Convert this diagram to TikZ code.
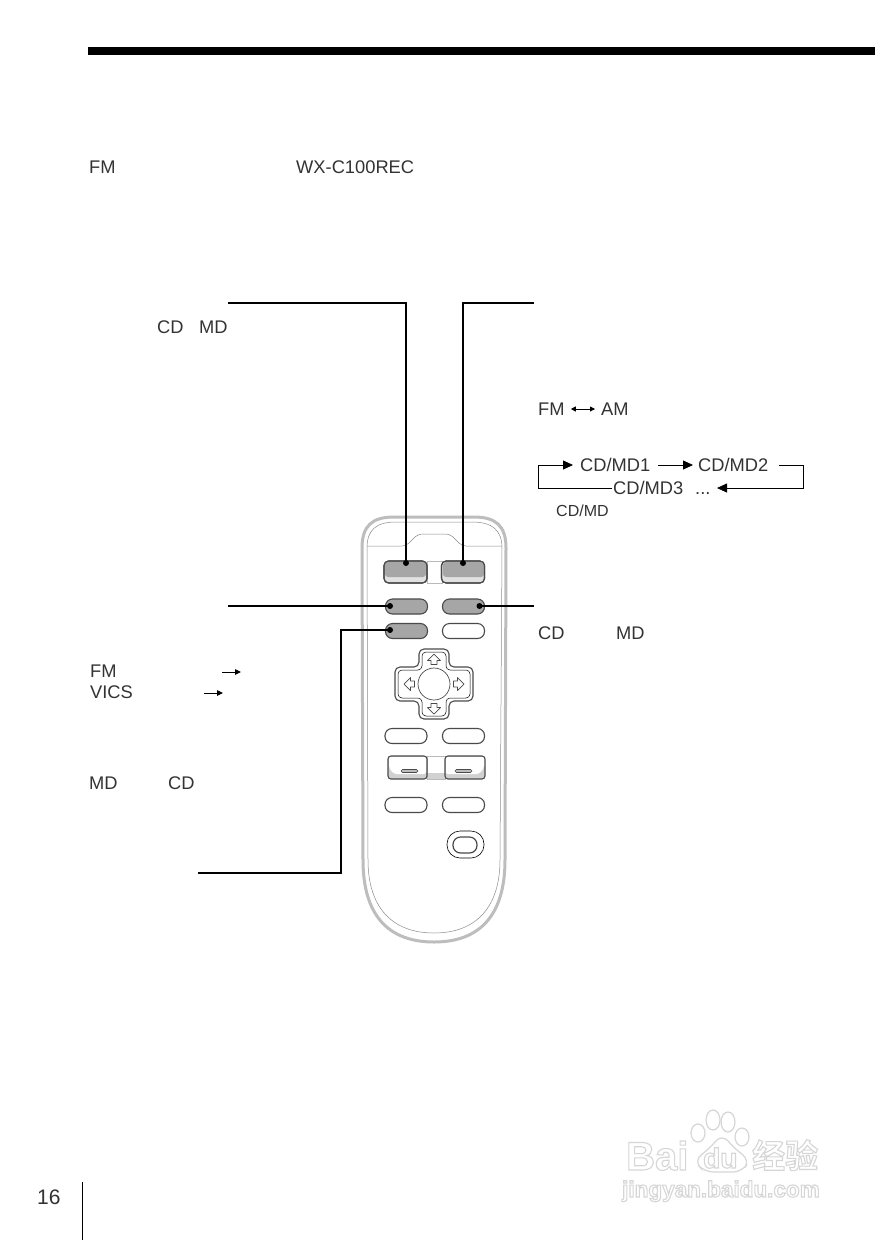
\documentclass[tikz,border=0pt]{standalone}
\usepackage{fontspec}
\setmainfont{Liberation Sans}
\newfontfamily\cjkwm{Noto Sans CJK SC}[BoldFont=* Bold]
\usetikzlibrary{arrows.meta}
\definecolor{ink}{HTML}{333333}
\definecolor{btngray}{HTML}{A6A6A6}
\definecolor{btnedge}{HTML}{4A4A4A}
\definecolor{shell}{HTML}{BDBDBD}
\definecolor{thin}{HTML}{8C8C8C}
\newcommand{\wmtext}[1]{\special{pdf:code q 2 Tr 1.1 w 0.84 G 1 g}#1\special{pdf:code Q}}
\tikzset{
  x=1pt,y=-1pt,
  lab/.style={anchor=base west,inner sep=0pt,text=ink,font=\fontsize{18.3}{19}\selectfont},
  smalllab/.style={lab,font=\fontsize{16}{17}\selectfont},
  lead/.style={line width=1.7pt,black},
  dot/.style={circle,fill=black,inner sep=0pt,minimum size=6pt},
  flow/.style={line width=0.8pt,black,-{Triangle[length=10pt,width=9pt]}},
  flowplain/.style={line width=0.8pt,black},
  shortarrow/.style={line width=0.9pt,black,-{Triangle[length=6pt,width=5.5pt]}},
  both/.style={line width=0.9pt,black,{Triangle[length=5pt,width=5pt]}-{Triangle[length=5pt,width=5pt]}},
  pill/.style={draw=btnedge,line width=1.1pt,rounded corners=7pt,minimum width=42pt,minimum height=15pt,inner sep=0pt,fill=white},
  graypill/.style={pill,fill=btngray},
  bigbtn/.style={draw=btnedge,line width=1.1pt,rounded corners=4.5pt,minimum width=43pt,minimum height=22pt,inner sep=0pt,fill=shell!45},
  thinline/.style={draw=thin,line width=0.5pt},
  wm/.style={inner sep=0pt,anchor=base west}
}
\begin{document}
\begin{tikzpicture}
\useasboundingbox (0,0) rectangle (875,1240);
\fill[white] (0,0) rectangle (875,1240);
% top rule and page number
\fill[black] (88,47) rectangle (875,55);
\node[lab,font=\fontsize{21}{22}\selectfont] (pg) at (37,1204) {16};
\coordinate (ruleA) at (82,1182);
\coordinate (ruleB) at (82,1240);
\draw[black,line width=0.9pt] (ruleA) -- (ruleB);
% remote body
\draw[shell,line width=3pt,fill=white]
  (362,548) .. controls (362,526) and (372,517) .. (394,517)
  -- (474,517) .. controls (496,517) and (506,526) .. (506,548)
  -- (505,860) .. controls (505,915) and (480,942) .. (434,942)
  .. controls (388,942) and (363,915) .. (363,860) -- cycle;
\draw[thinline]
  (367,548) .. controls (367,530) and (376,522) .. (396,522)
  -- (472,522) .. controls (492,522) and (502,530) .. (502,548)
  -- (500,860) .. controls (500,905) and (478,933) .. (434,933)
  .. controls (390,933) and (368,905) .. (368,860) -- cycle;
\draw[thinline,rounded corners=4pt] (367,546) -- (406,546) -- (418,534) -- (450,534) -- (462,546) -- (502,546);
% top buttons
\draw[thin!60,line width=0.5pt] (427,561) rectangle (442,583);
\node[bigbtn] (ba) at (405.5,572) {};
\node[bigbtn] (bb) at (463,572) {};
\fill[btngray,rounded corners=3pt] (385,562) rectangle (426,577);
\fill[btngray,rounded corners=3pt] (443,562) rectangle (484,577);
\node[bigbtn,fill=none] at (405.5,572) {};
\node[bigbtn,fill=none] at (463,572) {};
% pill rows
\node[graypill] (bc) at (406.5,606.5) {};
\node[graypill] (bd) at (463.5,606.5) {};
\node[graypill] (be) at (406.5,631) {};
\node[pill] (bf) at (463.5,631) {};
\node[pill] (bg) at (406,736) {};
\node[pill] (bh) at (463.5,736) {};
\node[pill] (bi) at (406,805) {};
\node[pill] (bj) at (463.5,805) {};
% rocker
\fill[shell!70] (427,773) rectangle (445,779);
\draw[thin!60,line width=0.5pt] (427,756) rectangle (445,779);
\filldraw[fill=shell!70,draw=btnedge,line width=1.1pt,rounded corners=3pt] (388,756) -- (427,756) -- (427,779) -- (388,779) -- cycle;
\filldraw[fill=shell!70,draw=btnedge,line width=1.1pt,rounded corners=3pt] (445,756) -- (485,756) -- (485,779) -- (445,779) -- cycle;
\fill[white,rounded corners=2pt] (389,757) -- (426,757) -- (426,774) -- (394,774) -- (389,768) -- cycle;
\fill[white,rounded corners=2pt] (446,757) -- (484,757) -- (484,768) -- (479,774) -- (446,774) -- cycle;
\filldraw[fill=shell,draw=btnedge,line width=0.6pt,rounded corners=1.5pt] (401,769.5) rectangle (418,772.5);
\filldraw[fill=shell,draw=btnedge,line width=0.6pt,rounded corners=1.5pt] (455,769.5) rectangle (472,772.5);
% small round button
\draw[thin,line width=0.6pt,rounded corners=13pt] (447,831) rectangle (484,858);
\draw[btnedge,line width=1.2pt,rounded corners=7.5pt] (453,837) rectangle (477,853);
% d-pad
\begin{scope}[shift={(434,684)}]
\draw[btnedge,line width=1.1pt,rounded corners=5pt]
 (-15,-35) -- (15,-35) -- (15,-17) -- (39,-17) -- (39,17) -- (15,17) -- (15,35) -- (-15,35) -- (-15,17) -- (-39,17) -- (-39,-17) -- (-15,-17) -- cycle;
\draw[thin,line width=0.5pt,rounded corners=4pt]
 (-12,-32) -- (12,-32) -- (12,-14) -- (36,-14) -- (36,14) -- (12,14) -- (12,32) -- (-12,32) -- (-12,14) -- (-36,14) -- (-36,-14) -- (-12,-14) -- cycle;
\filldraw[fill=white,draw=btnedge,line width=0.7pt] (0,0) circle (16);
\foreach \r in {0,90,180,270}{
  \draw[btnedge,line width=0.7pt,rotate=\r,line join=round]
   (0,-30) -- (6.5,-23.5) -- (3,-23.5) -- (3,-19.5) -- (-3,-19.5) -- (-3,-23.5) -- (-6.5,-23.5) -- cycle;
}
\end{scope}
% dots and leaders
\node[dot] (d1) at (406,563) {};
\node[dot] (d2) at (463,563) {};
\node[dot] (d3) at (390,606) {};
\node[dot] (d4) at (479.5,606) {};
\node[dot] (d5) at (390,630) {};
\coordinate (f1) at (228,303);
\coordinate (f2) at (534,303);
\coordinate (f3) at (228,606);
\coordinate (f4) at (534,606);
\coordinate (f5) at (198,873);
\coordinate (k5a) at (341,873);
\coordinate (k5b) at (341,630);
\draw[lead] (f1) -| (d1.center);
\draw[lead] (f2) -| (d2.center);
\draw[lead] (f3) -- (d3.center);
\draw[lead] (f4) -- (d4.center);
\draw[lead] (f5) -- (k5a) -- (k5b) -- (d5.center);
% text labels
\node[lab] (t1) at (89,173) {FM};
\node[lab] (t2) at (296,173) {WX-C100REC};
\node[lab] (t3) at (157,333) {CD};
\node[lab] (t4) at (199,333) {MD};
\node[lab] (fm) at (538,415) {FM};
\node[lab] (am) at (601,415) {AM};
\draw[both,shorten <=6pt,shorten >=6pt] (fm.east |- 0,409) -- (am.west |- 0,409);
\node[lab] (cd1) at (580,471) {CD/MD1};
\node[lab] (cd2) at (698,471) {CD/MD2};
\node[lab] (cd3) at (613,494) {CD/MD3};
\node[lab] (dots) at (695,494) {...};
\coordinate (lpA) at (538,465);
\coordinate (lpB) at (538,488);
\coordinate (lpC) at (803,465);
\coordinate (lpD) at (803,488);
\coordinate (lpE) at (779,465);
\coordinate (lpF) at (573,465);
\coordinate (lpG) at (693,465);
\coordinate (lpH) at (658,465);
\coordinate (lpI) at (612,488);
\coordinate (lpJ) at (717,488);
\draw[flow] (lpB) -- (lpA) -- (lpF);
\draw[flow] (lpH) -- (lpG);
\draw[flow] (lpE) -- (lpC) -- (lpD) -- (lpJ);
\draw[flowplain] (lpB) -- (lpI);
\node[smalllab] (sm) at (556,516) {CD/MD};
\node[lab] (t5) at (538,639) {CD};
\node[lab] (t6) at (616,639) {MD};
\node[lab] (t7) at (90,677) {FM};
\node[lab] (t8) at (90,698) {VICS};
\node[lab] (t9) at (89,789) {MD};
\node[lab] (t10) at (168,789) {CD};
\coordinate (a1) at (222,672);
\coordinate (a2) at (241,672);
\coordinate (a3) at (204,693);
\coordinate (a4) at (223,693);
\draw[shortarrow] (a1) -- (a2);
\draw[shortarrow] (a3) -- (a4);
% watermark
\begin{scope}
\foreach \cx/\cy/\ra/\rb in {698/1133/7/9,713/1120/7/10,728/1122/7/10,742/1137/7/9}{
  \draw[black!16,line width=1.2pt] (\cx,\cy) ellipse (\ra pt and \rb pt);
}
\draw[black!16,line width=1.2pt,rounded corners=9pt] (722,1134) -- (736,1150) -- (750,1160) -- (742,1172) -- (704,1172) -- (694,1160) -- (708,1150) -- cycle;
\node[wm,font=\bfseries\fontsize{40}{40}\selectfont] (wa) at (626,1170) {\wmtext{Bai}};
\node[wm,font=\bfseries\fontsize{28}{28}\selectfont] (wb) at (703,1168) {\wmtext{du}};
\node[wm,font=\cjkwm\bfseries\fontsize{33}{33}\selectfont] (wc) at (752,1168) {\wmtext{经验}};
\node[wm,font=\bfseries\fontsize{22.5}{23}\selectfont] (wd) at (622,1197) {\wmtext{jingyan.baidu.com}};
\end{scope}
\end{tikzpicture}
\end{document}
